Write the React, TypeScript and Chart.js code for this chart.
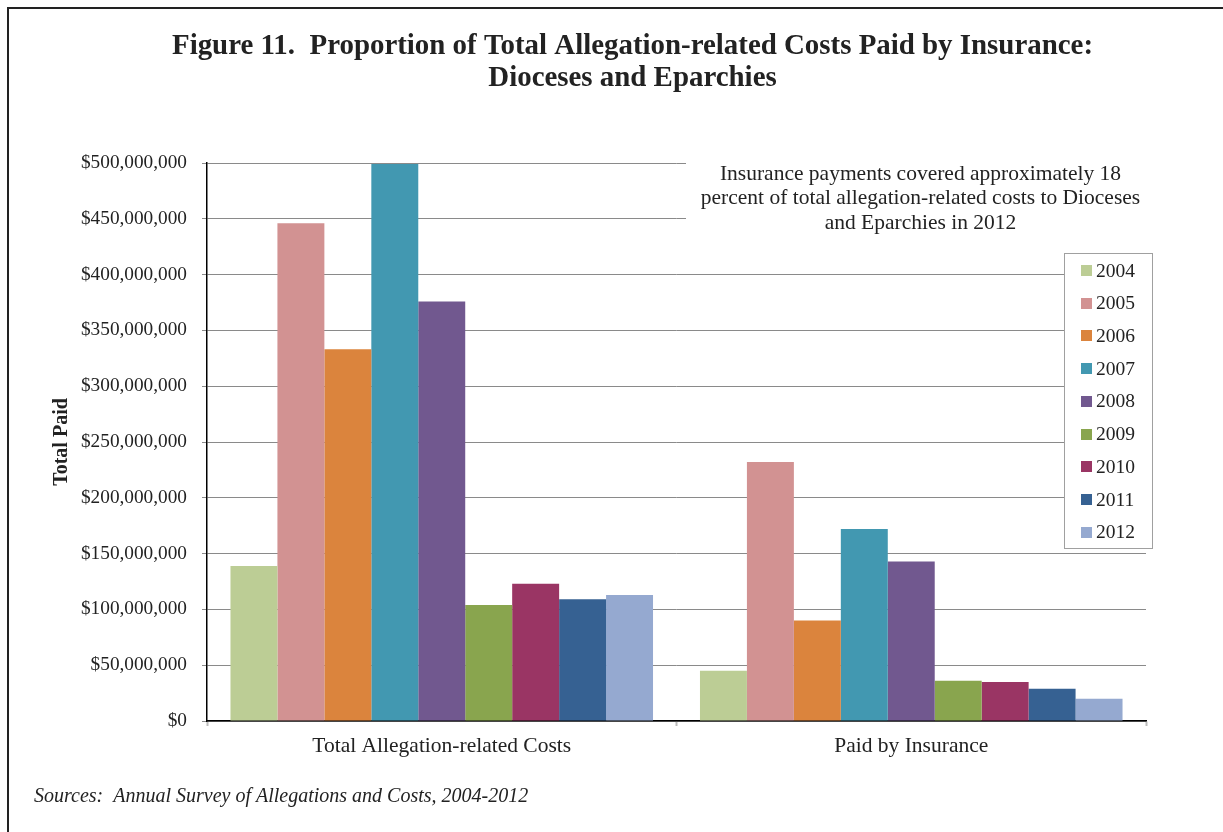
import React, { useEffect, useRef } from 'react';
import { Chart, registerables } from 'chart.js';

Chart.register(...registerables);

const categories = ['Total Allegation-related Costs', 'Paid by Insurance'];
const years = ['2004', '2005', '2006', '2007', '2008', '2009', '2010', '2011', '2012'];
const totalCosts = [139e6, 446e6, 333e6, 499e6, 376e6, 104e6, 123e6, 109e6, 113e6];
const paidByInsurance = [45e6, 232e6, 90e6, 172e6, 143e6, 36e6, 35e6, 29e6, 20e6];
const colors = ['#BCCD95', '#D29292', '#DB843D', '#4298B1', '#71588F', '#89A54E', '#9A3564', '#366192', '#95A9D0'];
const yMax = 500e6;
const yStep = 50e6;
const titleLines = [
  'Figure 11.  Proportion of Total Allegation-related Costs Paid by Insurance:',
  'Dioceses and Eparchies',
];
const noteLines = [
  'Insurance payments covered approximately 18',
  'percent of total allegation-related costs to Dioceses',
  'and Eparchies in 2012',
];
const sourceText = 'Sources:  Annual Survey of Allegations and Costs, 2004-2012';
const yTitle = 'Total Paid';

const SERIF = '"Liberation Serif", "Times New Roman", serif';

const decorPlugin = {
  id: 'decor',
  afterDraw(chart: any) {
    const ctx = chart.ctx;
    ctx.save();
    // frame
    ctx.strokeStyle = '#222';
    ctx.lineWidth = 2;
    ctx.beginPath();
    ctx.moveTo(8, 900);
    ctx.lineTo(8, 8);
    ctx.lineTo(1300, 8);
    ctx.stroke();

    // title
    ctx.fillStyle = '#222';
    ctx.textAlign = 'center';
    ctx.textBaseline = 'middle';
    ctx.font = `bold 28.9px ${SERIF}`;
    titleLines.forEach((t, i) => ctx.fillText(t, 632.5, 47 + i * 32));

    // note box
    ctx.fillStyle = '#fff';
    ctx.fillRect(686, 152, 464, 88);
    ctx.fillStyle = '#222';
    ctx.font = `21.5px ${SERIF}`;
    noteLines.forEach((t, i) => ctx.fillText(t, 920.5, 174 + i * 24.5));

    // legend
    const lx = 1064, ly = 253, lw = 88, lh = 295;
    ctx.fillStyle = '#fff';
    ctx.fillRect(lx, ly, lw, lh);
    ctx.strokeStyle = '#a0a0a0';
    ctx.lineWidth = 1;
    ctx.strokeRect(lx + 0.5, ly + 0.5, lw, lh);
    ctx.font = `19.5px ${SERIF}`;
    ctx.textAlign = 'left';
    chart.data.datasets.forEach((ds: any, i: number) => {
      const cy = 270.5 + i * 32.7;
      ctx.fillStyle = ds.backgroundColor;
      ctx.fillRect(1081, Math.round(cy - 5.5), 11, 11);
      ctx.fillStyle = '#222';
      ctx.fillText(ds.label, 1096, cy + 1);
    });
    ctx.restore();
  },
};

export default function App() {
  const ref = useRef<HTMLCanvasElement | null>(null);
  useEffect(() => {
    if (!ref.current) return;
    const chart = new Chart(ref.current, {
      type: 'bar',
      data: {
        labels: categories,
        datasets: years.map((y, i) => ({
          label: y,
          data: [totalCosts[i], paidByInsurance[i]],
          backgroundColor: colors[i],
          borderWidth: 0,
          categoryPercentage: 0.9,
          barPercentage: 1,
        })),
      },
      options: {
        animation: false,
        responsive: false,
        devicePixelRatio: 1,
        layout: { padding: { left: 34, right: 77, top: 163, bottom: 0 } },
        plugins: {
          legend: { display: false },
          tooltip: { enabled: false },
          title: { display: false },
          subtitle: {
            display: true,
            text: sourceText,
            position: 'bottom',
            align: 'start',
            color: '#222',
            font: { family: SERIF, size: 20, style: 'italic', weight: 'normal' },
            padding: { top: 14, bottom: 23 },
          },
        },
        scales: {
          x: {
            afterFit: (s: any) => { s.height = 50; },
            grid: {
              offset: true,
              drawOnChartArea: false,
              drawTicks: true,
              tickLength: 5,
              tickColor: '#bbb',
              tickWidth: 2,
            },
            border: { color: '#000', width: 1.5 },
            ticks: {
              color: '#222',
              padding: 7,
              font: { family: SERIF, size: 21.5 },
            },
          },
          y: {
            min: 0,
            max: yMax,
            afterFit: (s: any) => { s.width = 173; },
            grid: {
              color: '#8a8a8a',
              lineWidth: 1,
              drawTicks: true,
              tickLength: 5,
              tickColor: '#8a8a8a',
            },
            border: { color: '#000', width: 1.5 },
            ticks: {
              stepSize: yStep,
              color: '#222',
              padding: 15,
              font: { family: SERIF, size: 19.3 },
              callback: (v: any) => '$' + Number(v).toLocaleString('en-US'),
            },
            title: {
              display: true,
              text: yTitle,
              color: '#222',
              font: { family: SERIF, size: 20, weight: 'bold' },
              padding: { top: 16, bottom: 0 },
            },
          },
        },
      },
      plugins: [decorPlugin],
    } as any);
    return () => chart.destroy();
  }, []);
  return (
    <div style={{ position: 'absolute', left: 0, top: 0, width: 1223, height: 832, background: '#fff' }}>
      <canvas ref={ref} width={1223} height={832} style={{ display: 'block', width: 1223, height: 832 }} />
    </div>
  );
}
